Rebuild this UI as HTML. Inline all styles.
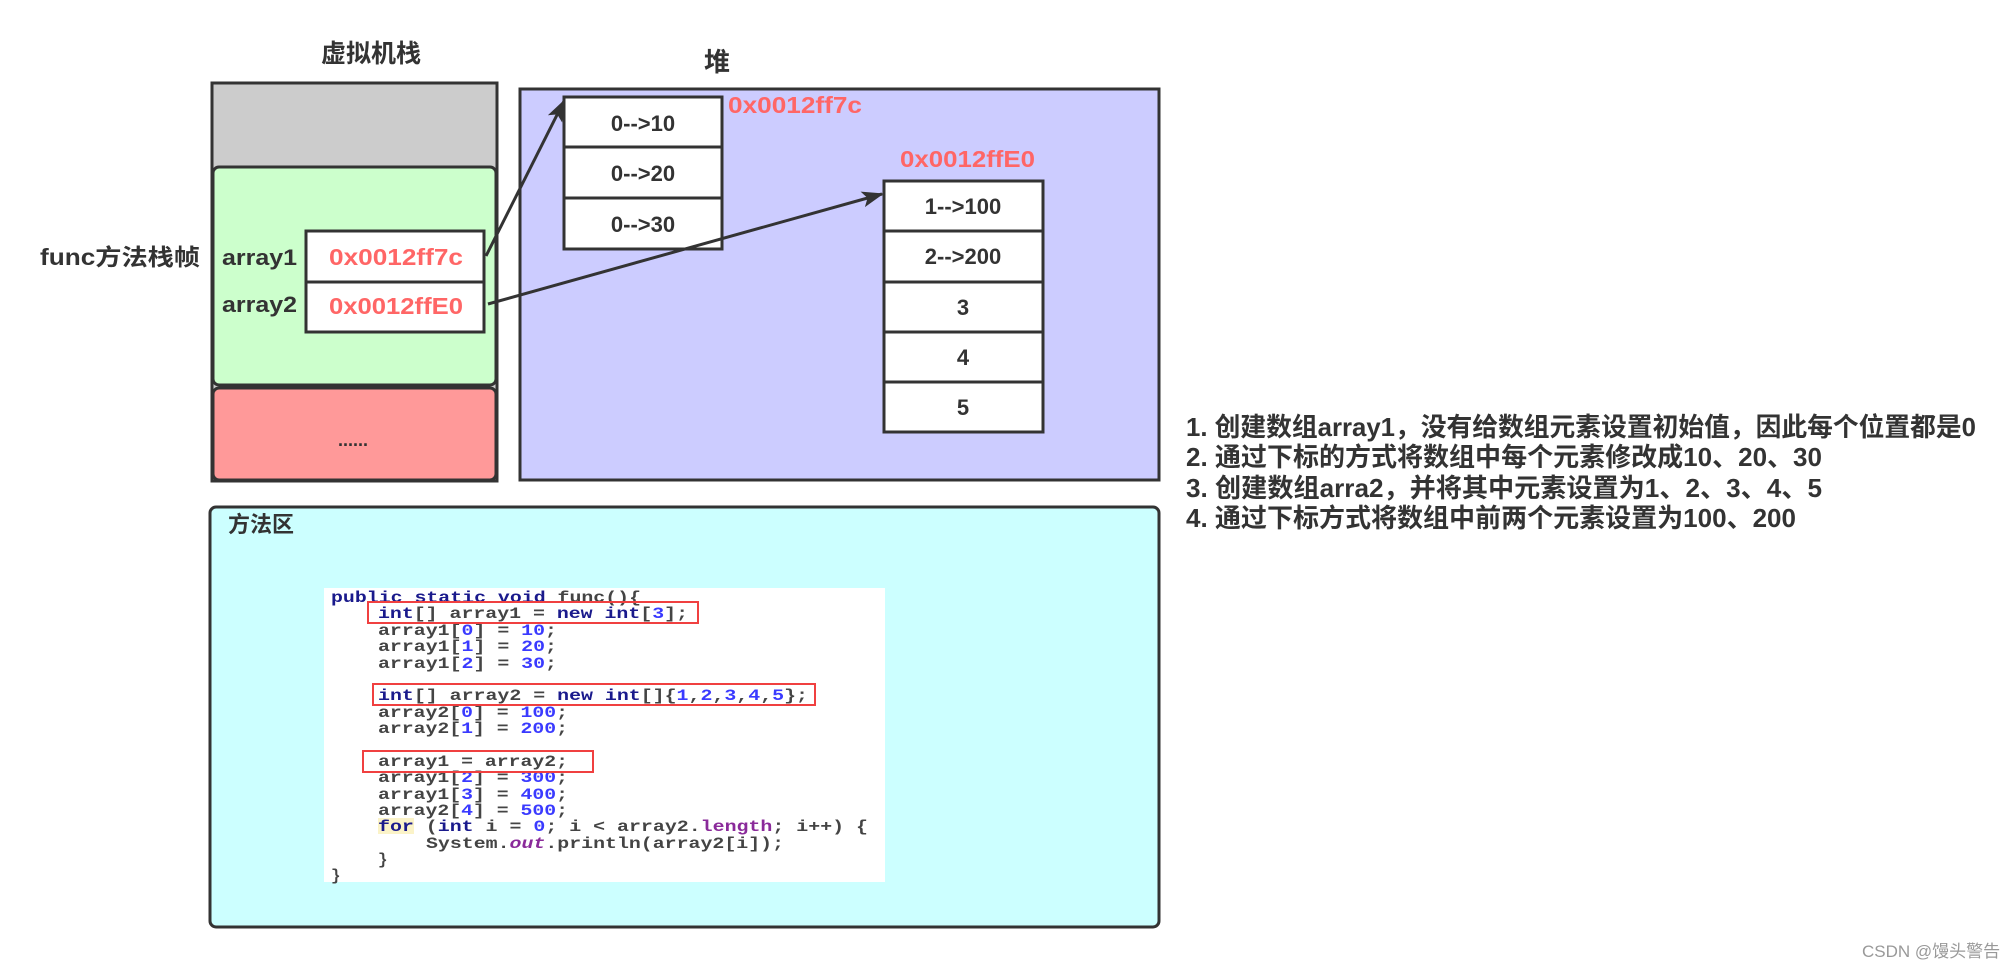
<!DOCTYPE html>
<html><head><meta charset="utf-8"><style>
html,body{margin:0;padding:0;background:#fff;}
svg{display:block;}
.t{font-family:"Liberation Sans","Noto Sans CJK SC",sans-serif;font-weight:bold;fill:#333;}
.r{font-family:"Liberation Sans","Noto Sans CJK SC",sans-serif;font-weight:bold;fill:#ff6666;}
.c{font-family:"Liberation Mono",monospace;font-weight:bold;font-size:16px;fill:#444;white-space:pre;}
.k{fill:#1a1a8c;}
.n{fill:#3a3aff;}
.p{fill:#8a2a9a;}
</style></head><body>
<svg width="2007" height="968" viewBox="0 0 2007 968" xmlns="http://www.w3.org/2000/svg">
<defs>
<marker id="ah2" markerWidth="22" markerHeight="22" refX="20" refY="11" orient="auto" markerUnits="userSpaceOnUse" viewBox="0 0 22 22"><path d="M0,3 L22,11 L0,19 L5,11 z" fill="#333"/></marker></defs>

<text class="t" x="321" y="62" font-size="25" textLength="100" lengthAdjust="spacingAndGlyphs">虚拟机栈</text>
<text class="t" x="704" y="71" font-size="26">堆</text>

<!-- stack -->
<rect x="212" y="83" width="285" height="398" fill="#ccc" stroke="#333" stroke-width="3"/>
<rect x="213" y="167" width="283" height="218" rx="6" fill="#ccffcc" stroke="#333" stroke-width="3"/>
<rect x="213" y="388" width="283" height="92" rx="6" fill="#ff9999" stroke="#333" stroke-width="3"/>
<text class="t" x="353" y="446" font-size="18" text-anchor="middle">......</text>
<text class="t" x="40" y="265" font-size="23" textLength="160" lengthAdjust="spacingAndGlyphs">func方法栈帧</text>
<text class="t" x="222" y="265" font-size="22" textLength="75" lengthAdjust="spacingAndGlyphs">array1</text>
<text class="t" x="222" y="312" font-size="22" textLength="75" lengthAdjust="spacingAndGlyphs">array2</text>
<rect x="306" y="231" width="178" height="101" fill="#fff" stroke="#333" stroke-width="3"/>
<line x1="306" y1="282" x2="484" y2="282" stroke="#333" stroke-width="3"/>
<text class="r" x="329" y="265" font-size="23" textLength="134" lengthAdjust="spacingAndGlyphs">0x0012ff7c</text>
<text class="r" x="329" y="314" font-size="23" textLength="134" lengthAdjust="spacingAndGlyphs">0x0012ffE0</text>

<!-- heap -->
<rect x="520" y="89" width="639" height="391" fill="#ccccff" stroke="#333" stroke-width="3"/>
<rect x="564" y="97" width="158" height="152" fill="#fff" stroke="#333" stroke-width="3"/>
<line x1="564" y1="147" x2="722" y2="147" stroke="#333" stroke-width="3"/>
<line x1="564" y1="198" x2="722" y2="198" stroke="#333" stroke-width="3"/>
<text class="t" x="643" y="131" font-size="22" text-anchor="middle">0-->10</text>
<text class="t" x="643" y="181" font-size="22" text-anchor="middle">0-->20</text>
<text class="t" x="643" y="232" font-size="22" text-anchor="middle">0-->30</text>
<text class="r" x="728" y="113" font-size="23" textLength="134" lengthAdjust="spacingAndGlyphs">0x0012ff7c</text>
<text class="r" x="900" y="167" font-size="23" textLength="135" lengthAdjust="spacingAndGlyphs">0x0012ffE0</text>
<rect x="884" y="181" width="159" height="251" fill="#fff" stroke="#333" stroke-width="3"/>
<line x1="884" y1="231" x2="1043" y2="231" stroke="#333" stroke-width="3"/>
<line x1="884" y1="282" x2="1043" y2="282" stroke="#333" stroke-width="3"/>
<line x1="884" y1="332" x2="1043" y2="332" stroke="#333" stroke-width="3"/>
<line x1="884" y1="382" x2="1043" y2="382" stroke="#333" stroke-width="3"/>
<text class="t" x="963" y="214" font-size="22" text-anchor="middle">1-->100</text>
<text class="t" x="963" y="264" font-size="22" text-anchor="middle">2-->200</text>
<text class="t" x="963" y="315" font-size="22" text-anchor="middle">3</text>
<text class="t" x="963" y="365" font-size="22" text-anchor="middle">4</text>
<text class="t" x="963" y="415" font-size="22" text-anchor="middle">5</text>

<!-- arrows -->
<line x1="486" y1="256" x2="564" y2="101" stroke="#333" stroke-width="3" marker-end="url(#ah2)"/>
<line x1="488" y1="304" x2="882" y2="194" stroke="#333" stroke-width="3" marker-end="url(#ah2)"/>

<!-- method area -->
<rect x="210" y="507" width="949" height="420" rx="6" fill="#ccffff" stroke="#333" stroke-width="3"/>
<text class="t" x="228" y="532" font-size="22">方法区</text>
<rect x="324" y="588" width="561" height="294" fill="#fff"/>
<rect x="378" y="818" width="36" height="16" fill="#fbf3c8"/>
<text class="c" x="331" y="602" textLength="310" lengthAdjust="spacingAndGlyphs"><tspan class="k">public static void</tspan> func(){</text>
<text class="c" x="378" y="618" textLength="310" lengthAdjust="spacingAndGlyphs"><tspan class="k">int</tspan>[] array1 = <tspan class="k">new int</tspan>[<tspan class="n">3</tspan>];</text>
<text class="c" x="378" y="635" textLength="179" lengthAdjust="spacingAndGlyphs">array1[<tspan class="n">0</tspan>] = <tspan class="n">10</tspan>;</text>
<text class="c" x="378" y="651" textLength="179" lengthAdjust="spacingAndGlyphs">array1[<tspan class="n">1</tspan>] = <tspan class="n">20</tspan>;</text>
<text class="c" x="378" y="668" textLength="179" lengthAdjust="spacingAndGlyphs">array1[<tspan class="n">2</tspan>] = <tspan class="n">30</tspan>;</text>
<text class="c" x="378" y="700" textLength="430" lengthAdjust="spacingAndGlyphs"><tspan class="k">int</tspan>[] array2 = <tspan class="k">new int</tspan>[]{<tspan class="n">1</tspan>,<tspan class="n">2</tspan>,<tspan class="n">3</tspan>,<tspan class="n">4</tspan>,<tspan class="n">5</tspan>};</text>
<text class="c" x="378" y="717" textLength="190" lengthAdjust="spacingAndGlyphs">array2[<tspan class="n">0</tspan>] = <tspan class="n">100</tspan>;</text>
<text class="c" x="378" y="733" textLength="190" lengthAdjust="spacingAndGlyphs">array2[<tspan class="n">1</tspan>] = <tspan class="n">200</tspan>;</text>
<text class="c" x="378" y="766" textLength="190" lengthAdjust="spacingAndGlyphs">array1 = array2;</text>
<text class="c" x="378" y="782" textLength="190" lengthAdjust="spacingAndGlyphs">array1[<tspan class="n">2</tspan>] = <tspan class="n">300</tspan>;</text>
<text class="c" x="378" y="799" textLength="190" lengthAdjust="spacingAndGlyphs">array1[<tspan class="n">3</tspan>] = <tspan class="n">400</tspan>;</text>
<text class="c" x="378" y="815" textLength="190" lengthAdjust="spacingAndGlyphs">array2[<tspan class="n">4</tspan>] = <tspan class="n">500</tspan>;</text>
<text class="c" x="378" y="831" textLength="490" lengthAdjust="spacingAndGlyphs"><tspan class="k">for</tspan> (<tspan class="k">int</tspan> i = <tspan class="n">0</tspan>; i &lt; array2.<tspan class="p">length</tspan>; i++) {</text>
<text class="c" x="426" y="848" textLength="358" lengthAdjust="spacingAndGlyphs">System.<tspan class="p" font-style="italic">out</tspan>.println(array2[i]);</text>
<text class="c" x="378" y="864">}</text>
<text class="c" x="331" y="880">}</text>
<rect x="368" y="602" width="330" height="21" fill="none" stroke="#f04040" stroke-width="2"/>
<rect x="373" y="684" width="442" height="21" fill="none" stroke="#f04040" stroke-width="2"/>
<rect x="363" y="751" width="230" height="21" fill="none" stroke="#f04040" stroke-width="2"/>

<!-- notes -->
<text class="t" x="1186" y="436" font-size="26" textLength="790" lengthAdjust="spacingAndGlyphs">1. 创建数组array1，没有给数组元素设置初始值，因此每个位置都是0</text>
<text class="t" x="1186" y="466" font-size="26" textLength="636" lengthAdjust="spacingAndGlyphs">2. 通过下标的方式将数组中每个元素修改成10、20、30</text>
<text class="t" x="1186" y="497" font-size="26" textLength="636" lengthAdjust="spacingAndGlyphs">3. 创建数组arra2，并将其中元素设置为1、2、3、4、5</text>
<text class="t" x="1186" y="527" font-size="26" textLength="610" lengthAdjust="spacingAndGlyphs">4. 通过下标方式将数组中前两个元素设置为100、200</text>

<text x="1862" y="957" font-size="17" fill="#999" font-family="Liberation Sans,Noto Sans CJK SC,sans-serif">CSDN @馒头警告</text>
</svg>
</body></html>
